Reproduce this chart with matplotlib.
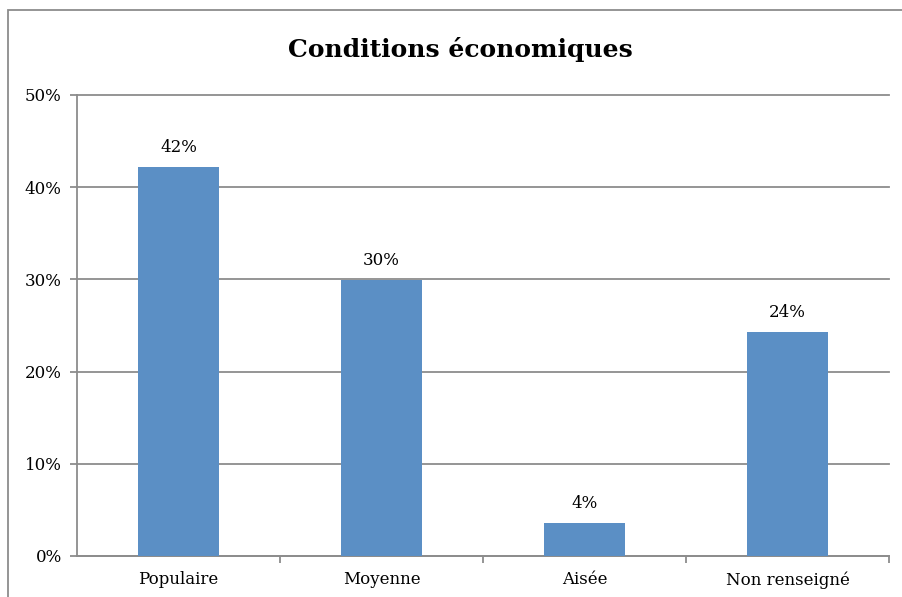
import matplotlib.pyplot as plt
import numpy as np
from matplotlib.patches import Rectangle
from matplotlib.ticker import FixedLocator, PercentFormatter

categories = ['Populaire', 'Moyenne', 'Aisée', 'Non renseigné']
shares = [42.2, 29.9, 3.6, 24.3]
share_labels = ['42%', '30%', '4%', '24%']
y_ticks = [0, 10, 20, 30, 40, 50]

bar_color = '#5b8fc5'
grid_color = '#8c8c8c'

plt.rcParams['font.family'] = ['DejaVu Serif']

fig = plt.figure(figsize=(9.02, 5.97), dpi=100)
ax = fig.add_axes([77 / 902, 41 / 597, 812 / 902, 461 / 597])

# border around the whole chart, it runs off the image on the right and bottom
fig.patches.append(Rectangle((8 / 902, -0.1), 1.2, (597 - 10) / 597 + 0.1,
                             transform=fig.transFigure, fill=False,
                             edgecolor=grid_color, linewidth=1.3))

x = np.arange(len(categories))
bars = ax.bar(x, shares, width=0.4, color=bar_color, zorder=3)

for rect, label in zip(bars, share_labels):
    ax.annotate(label, (rect.get_x() + rect.get_width() / 2, rect.get_height()),
                xytext=(0, 8), textcoords='offset points',
                ha='center', va='bottom', fontsize=12)

ax.set_xlim(-0.5, len(categories) - 0.5)
ax.set_ylim(0, 50)
ax.set_yticks(y_ticks)
ax.yaxis.set_major_formatter(PercentFormatter(decimals=0))
ax.set_xticks(x)
ax.set_xticklabels(categories)
ax.xaxis.set_minor_locator(FixedLocator(np.arange(len(categories)) + 0.5))

ax.tick_params(axis='x', which='major', length=0, pad=11, labelsize=12)
ax.tick_params(axis='x', which='minor', length=5, width=1.3, color=grid_color)
ax.tick_params(axis='y', length=5, width=1.3, color=grid_color, pad=6, labelsize=12)

ax.yaxis.grid(True, color=grid_color, linewidth=1.3, zorder=0)
for line in ax.get_ygridlines():
    line.set_clip_on(False)
for side in ['top', 'right']:
    ax.spines[side].set_visible(False)
for side in ['left', 'bottom']:
    ax.spines[side].set_color(grid_color)
    ax.spines[side].set_linewidth(1.3)

fig.text(460 / 902, 1 - 50 / 597, 'Conditions économiques', ha='center', va='center',
         fontsize=18, fontweight='bold')

fig.savefig('out.png', dpi=100)
